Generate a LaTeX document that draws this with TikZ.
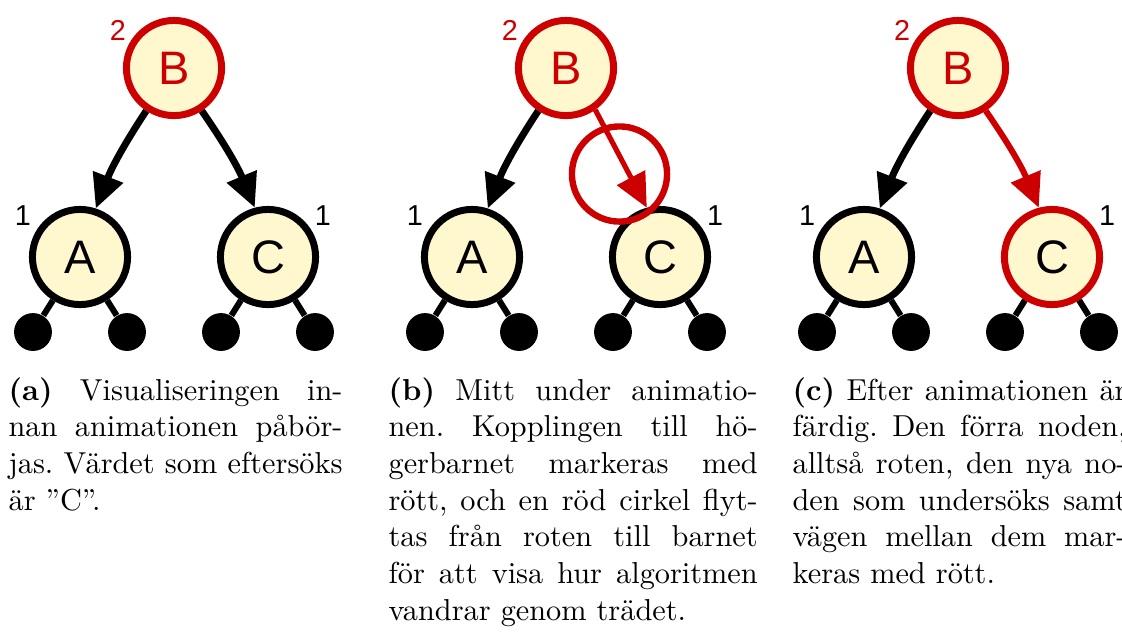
\documentclass[tikz,border=0pt]{standalone}
\usepackage{fontspec}
\newfontfamily\arialfont{Liberation Sans}
\usetikzlibrary{arrows.meta}
\definecolor{nodefill}{RGB}{255,248,206}
\definecolor{markred}{RGB}{204,0,0}
\tolerance=9999
\frenchspacing
\tikzset{
 nd/.style={circle,draw,line width=2.3pt,fill=nodefill,inner sep=0pt,minimum size=31.4pt,font=\arialfont\fontsize{15.5}{18}\selectfont},
 rn/.style={nd,draw=markred},
 rb/.style={rn,text=markred},
 lf/.style={circle,fill=black,inner sep=0pt,minimum size=12.5pt},
 num/.style={inner sep=0pt,font=\arialfont\fontsize{9.5}{11}\selectfont},
 ed/.style={line width=2.3pt,-{Triangle[length=11.2pt,width=10.2pt]}},
 st/.style={line width=2pt},
 ring/.style={circle,draw=markred,line width=2.1pt,inner sep=0pt,minimum size=31.4pt},
 capt/.style={anchor=base west,inner sep=0pt,align=justify,font=\fontsize{10}{12.1}\selectfont}}
\begin{document}
\begin{tikzpicture}[x=0.33pt,y=-0.33pt]
 \useasboundingbox (0,0) rectangle (1122,637);
 % (a)
 \node[rb] (Ba) at (174,68) {B};
 \node[nd] (Aa) at (80,257) {A};
 \node[nd] (Ca) at (268,257) {C};
 \node[num,text=markred] (na1) at (118,30) {2};
 \node[num] (na2) at (23,216) {1};
 \node[num] (na3) at (323,216) {1};
 \node[lf] (la1) at (33,332) {};
 \node[lf] (la2) at (127,332) {};
 \node[lf] (la3) at (221,332) {};
 \node[lf] (la4) at (315,332) {};
 \draw[ed] (Ba.237) to[bend right=6] (Aa.72);
 \draw[ed] (Ba.-57) to[bend left=6] (Ca.105);
 \draw[st] (Aa)--(la1) (Aa)--(la2) (Ca)--(la3) (Ca)--(la4);
 % (b)
 \node[rb] (Bb) at (566,68) {B};
 \node[nd] (Ab) at (472,257) {A};
 \node[nd] (Cb) at (660,257) {C};
 \node[num,text=markred] (nb1) at (510,30) {2};
 \node[num] (nb2) at (415,216) {1};
 \node[num] (nb3) at (715,216) {1};
 \node[lf] (lb1) at (425,332) {};
 \node[lf] (lb2) at (519,332) {};
 \node[lf] (lb3) at (613,332) {};
 \node[lf] (lb4) at (707,332) {};
 \draw[ed] (Bb.237) to[bend right=6] (Ab.72);
 \draw[ed,markred,line width=1.7pt] (Bb.-55) -- (Cb.105);
 \draw[st] (Ab)--(lb1) (Ab)--(lb2) (Cb)--(lb3) (Cb)--(lb4);
 \node[ring] (rg) at (619.5,174) {};
 % (c)
 \node[rb] (Bc) at (958,68) {B};
 \node[nd] (Ac) at (864,257) {A};
 \node[rn] (Cc) at (1052,257) {C};
 \node[num,text=markred] (nc1) at (902,30) {2};
 \node[num] (nc2) at (807,216) {1};
 \node[num] (nc3) at (1107,216) {1};
 \node[lf] (lc1) at (817,332) {};
 \node[lf] (lc2) at (911,332) {};
 \node[lf] (lc3) at (1005,332) {};
 \node[lf] (lc4) at (1099,332) {};
 \draw[ed] (Bc.237) to[bend right=6] (Ac.72);
 \draw[ed,markred,line width=2pt] (Bc.-57) to[bend left=6] (Cc.105);
 \draw[st] (Ac)--(lc1) (Ac)--(lc2) (Cc)--(lc3) (Cc)--(lc4);
 % captions
 \node[capt,text width=110.2pt] (ta) at (8,400) {\textbf{(a)} Visualiseringen in-\linebreak nan animationen påbör-\linebreak jas. Värdet som eftersöks\linebreak är ''C''.};
 \node[capt,text width=121.8pt] (tb) at (388,400) {\textbf{(b)} Mitt under animatio-\linebreak nen. Kopplingen till hö-\linebreak gerbarnet markeras med\linebreak rött, och en röd cirkel flyt-\linebreak tas från roten till barnet\linebreak för att visa hur algoritmen\linebreak vandrar genom trädet.};
 \node[capt,text width=110.2pt] (tc) at (792,400) {\textbf{(c)} Efter animationen är\linebreak färdig. Den förra noden,\linebreak alltså roten, den nya no-\linebreak den som undersöks samt\linebreak vägen mellan dem mar-\linebreak keras med rött.};
\end{tikzpicture}
\end{document}
